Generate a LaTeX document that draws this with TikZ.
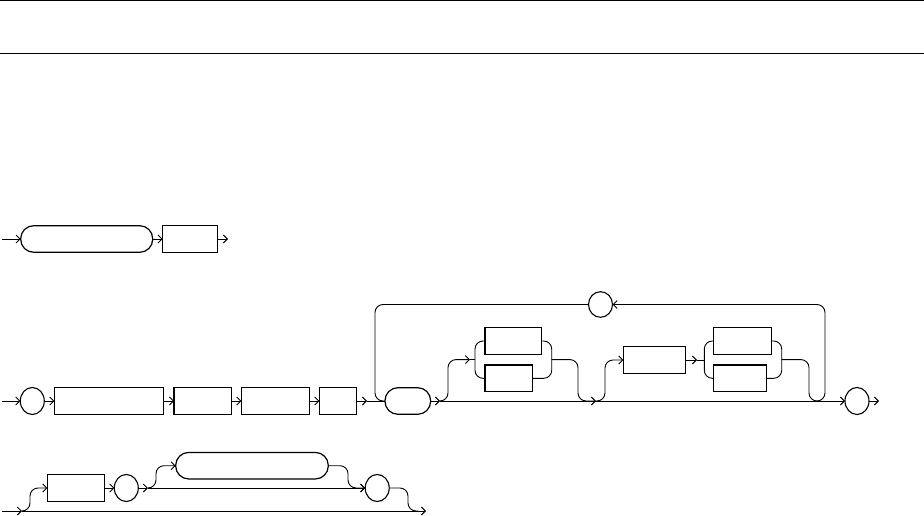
\documentclass[tikz,border=0pt]{standalone}
\usetikzlibrary{arrows.meta,shapes.geometric}
\begin{document}
\begin{tikzpicture}[x=1pt,y=-1pt,
  rail/.style={line width=0.9pt, rounded corners=8pt},
  arr/.style={-{Straight Barb[length=4pt,width=8pt]}},
  ntbox/.style={draw, rectangle, line width=1.4pt, inner sep=0pt, outer sep=0pt, minimum height=26.6pt},
  term/.style={draw, rectangle, rounded corners=13pt, line width=1.2pt, inner sep=0pt, outer sep=0pt, minimum height=26.6pt},
  circ/.style={draw, ellipse, line width=1.1pt, inner sep=0pt, outer sep=0pt, minimum width=24pt, minimum height=27pt},
  rulefull/.style={line width=1pt}]
\useasboundingbox (0,0) rectangle (924,516);
% header rules
\coordinate (h1a) at (0,1); \coordinate (h1b) at (924,1);
\coordinate (h2a) at (0,54); \coordinate (h2b) at (924,54);
\draw[rulefull] (h1a) -- (h1b);
\draw[rulefull] (h2a) -- (h2b);

% ---------- Row 1 ----------
\coordinate (s1) at (2,239);
\node[term, minimum width=132pt] (t1) at (86.7,239) {};
\node[ntbox, minimum width=54.6pt] (b1) at (190,239) {};
\coordinate (e1) at (228,239);
\draw[rail,arr] (s1) -- (t1.west);
\draw[rail,arr] (t1.east) -- (b1.west);
\draw[rail,arr] (b1.east) -- (e1);

% ---------- Row 2 ----------
\coordinate (s2) at (2,401);
\node[circ] (c1) at (32.3,401) {};
\node[ntbox, minimum width=109pt] (r1) at (108.8,401) {};
\node[ntbox, minimum width=57.3pt] (r2) at (202.7,401) {};
\node[ntbox, minimum width=68pt] (r3) at (275.3,401) {};
\node[ntbox, minimum width=37pt] (r4) at (337.8,401) {};
\coordinate (j1) at (367,401);
\node[term, minimum width=45.7pt] (o2) at (407.8,401) {};
\coordinate (j2) at (440,401);
\coordinate (j3) at (596,401);
\node[ntbox, minimum width=56.7pt] (bA) at (513.3,341) {};
\node[ntbox, minimum width=47.3pt] (bB) at (508.7,378.3) {};
\node[ntbox, minimum width=62.4pt] (bC) at (654.5,360) {};
\node[ntbox, minimum width=58.4pt] (bD) at (742.5,341) {};
\node[ntbox, minimum width=53.4pt] (bE) at (740,378.3) {};
\node[circ, minimum height=25.6pt] (c2) at (600.5,304.5) {};
\node[circ] (c3) at (857,401) {};
\coordinate (e2) at (879,401);

\draw[rail,arr] (s2) -- (c1.west);
\draw[rail,arr] (c1.east) -- (r1.west);
\draw[rail,arr] (r1.east) -- (r2.west);
\draw[rail,arr] (r2.east) -- (r3.west);
\draw[rail,arr] (r3.east) -- (r4.west);
\draw[rail,arr] (r4.east) -- (j1);
\draw[rail] (j1) -- (o2.west);
\draw[rail,arr] (o2.east) -- (j2);
\draw[rail,arr] (j2) -- (c3.west);
\draw[rail,arr] (c3.east) -- (e2);

% first choice group
\coordinate (k1) at (470,359.6);
\coordinate (bl1) at (475,359.6);
\coordinate (br1) at (551.7,359.6);
\draw[rail,arr] (j2) -- (448,401) -- (448,359.6) -- (k1);
\draw[rail] (k1) -- (bl1);
\draw[rail] (bA.west) -- (475,341) -- (475,378.3) -- (bB.west);
\draw[rail] (bA.east) -- (551.7,341) -- (551.7,378.3) -- (bB.east);
\draw[rail,arr] (br1) -- (578,359.6) -- (578,401) -- (j3);

% second optional group
\coordinate (k2) at (697,360);
\coordinate (bl2) at (704.3,360);
\coordinate (br2) at (781.7,359.6);
\draw[rail,arr] (j3) -- (605,401) -- (605,360) -- (bC.west);
\draw[rail,arr] (bC.east) -- (k2);
\draw[rail] (k2) -- (bl2);
\draw[rail] (bD.west) -- (704.3,341) -- (704.3,378.3) -- (bE.west);
\draw[rail] (bD.east) -- (781.7,341) -- (781.7,378.3) -- (bE.east);

% loop back
\draw[rail,arr] (br2) -- (809,359.6) -- (809,401) -- (825,401) -- (825,304.5) -- (c2.east);
\draw[rail] (c2.west) -- (375,304.5) -- (375,401) -- (o2.west);

% ---------- Row 3 ----------
\coordinate (s3) at (2,511);
\coordinate (j4) at (22,511);
\coordinate (e3) at (426,511);
\node[ntbox, minimum width=57pt, minimum height=27.4pt] (bF) at (75.8,488) {};
\node[circ] (c4) at (126.3,488) {};
\node[term, minimum width=152.6pt] (t3) at (252,465.7) {};
\node[circ] (c5) at (377.2,488) {};
\coordinate (j5) at (148,488);
\coordinate (j6) at (418,511);

\draw[rail,arr] (s3) -- (j4);
\draw[rail,arr] (j4) -- (e3);
\draw[rail,arr] (j4) -- (30,511) -- (30,488) -- (bF.west);
\draw[rail,arr] (bF.east) -- (c4.west);
\draw[rail,arr] (c4.east) -- (j5);
\draw[rail,arr] (j5) -- (c5.west);
\draw[rail,arr] (j5) -- (156,488) -- (156,465.7) -- (t3.west);
\draw[rail,arr] (t3.east) -- (348,465.7) -- (348,488) -- (c5.west);
\draw[rail] (c5.east) -- (408,488) -- (408,511) -- (j6);
\end{tikzpicture}
\end{document}
